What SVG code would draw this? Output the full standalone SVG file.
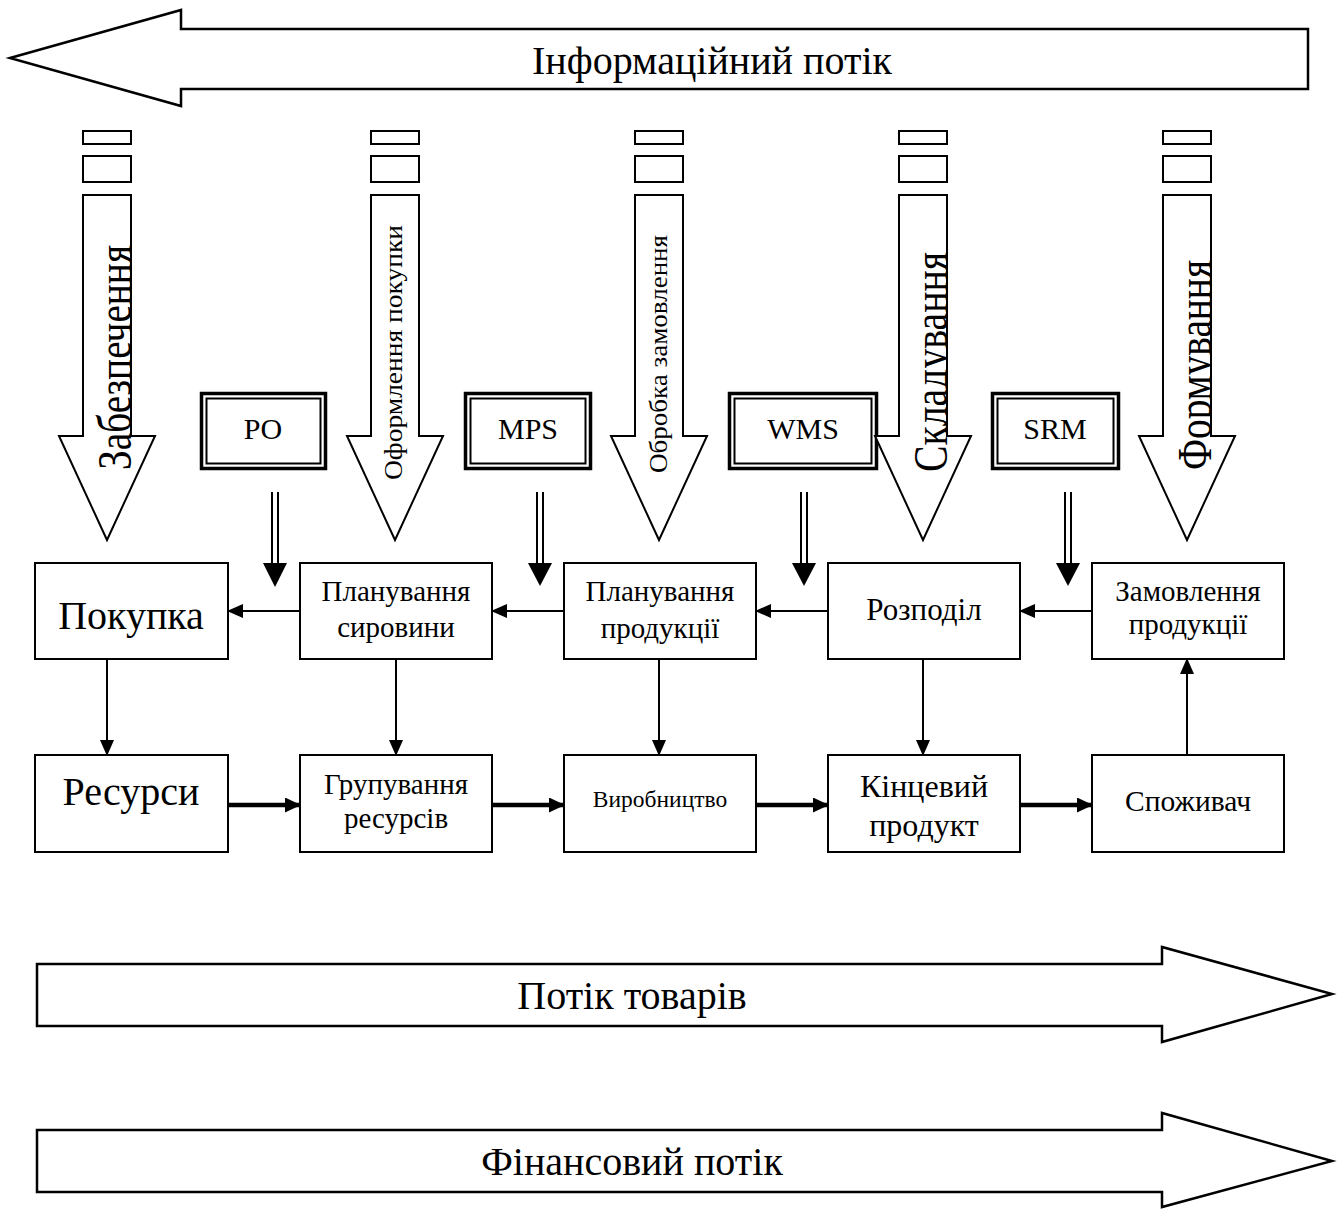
<svg xmlns="http://www.w3.org/2000/svg" width="1341" height="1209" viewBox="0 0 1341 1209">
<style>
text{font-family:"Liberation Serif","Times New Roman",serif;fill:#000}
.big{fill:#fff;stroke:#000;stroke-width:2.5}
.va{fill:#fff;stroke:#000;stroke-width:2}
.box{fill:#fff;stroke:#000;stroke-width:2}
.dout{fill:#fff;stroke:#000;stroke-width:3.5}
.din{fill:none;stroke:#000;stroke-width:2}
.thin{stroke:#000;stroke-width:2;fill:none}
.thick{stroke:#000;stroke-width:4.5;fill:none}
.dbl{stroke:#000;stroke-width:2;fill:none}
.c{text-anchor:middle}
</style>
<defs>
<marker id="ah" markerUnits="userSpaceOnUse" markerWidth="16" markerHeight="14" refX="15" refY="7" orient="auto"><path d="M0,0 L16,7 L0,14 z" fill="#000"/></marker>
<marker id="ahb" markerUnits="userSpaceOnUse" markerWidth="16" markerHeight="15" refX="15" refY="7.5" orient="auto"><path d="M0,0 L16,7.5 L0,15 z" fill="#000"/></marker>
<g id="varrow">
<rect x="-24" y="131" width="48" height="13" class="va"/>
<rect x="-24" y="156" width="48" height="26" class="va"/>
<polygon points="-24,195 24,195 24,436 48,436 0,540 -48,436 -24,436" class="va"/>
</g>
<clipPath id="cl1" clipPathUnits="userSpaceOnUse"><rect x="0" y="0" width="132" height="1209"/></clipPath>
<clipPath id="cl4" clipPathUnits="userSpaceOnUse"><rect x="0" y="0" width="948" height="1209"/></clipPath>
<clipPath id="cl5" clipPathUnits="userSpaceOnUse"><rect x="0" y="0" width="1212" height="1209"/></clipPath>
</defs>

<g id="info-flow">
<polygon points="10,58 181,10 181,29 1308,29 1308,89 181,89 181,106" class="big"/>
<text x="712" y="74" font-size="40" class="c">Інформаційний потік</text>
</g>

<g id="sys-PO">
<rect x="201.5" y="393.5" width="124" height="75" class="dout"/>
<rect x="206.5" y="398.5" width="114" height="65" class="din"/>
<text x="263" y="439" font-size="30" class="c">PO</text>
</g>
<g id="sys-MPS">
<rect x="465.5" y="393.5" width="125" height="75" class="dout"/>
<rect x="470.5" y="398.5" width="115" height="65" class="din"/>
<text x="528" y="439" font-size="30" class="c">MPS</text>
</g>
<g id="sys-WMS">
<rect x="729.5" y="393.5" width="147" height="75" class="dout"/>
<rect x="734.5" y="398.5" width="137" height="65" class="din"/>
<text x="803" y="439" font-size="30" class="c">WMS</text>
</g>
<g id="sys-SRM">
<rect x="992.5" y="393.5" width="126" height="75" class="dout"/>
<rect x="997.5" y="398.5" width="116" height="65" class="din"/>
<text x="1055" y="439" font-size="30" class="c">SRM</text>
</g>

<g id="va-1">
<use href="#varrow" transform="translate(107,0)"/>
<g clip-path="url(#cl1)"><text transform="translate(131,470) rotate(-90)" font-size="48" textLength="225" lengthAdjust="spacingAndGlyphs">Забезпечення</text></g>
</g>
<g id="va-2">
<use href="#varrow" transform="translate(395,0)"/>
<text transform="translate(402,480) rotate(-90)" font-size="25" textLength="255" lengthAdjust="spacingAndGlyphs">Оформлення покупки</text>
</g>
<g id="va-3">
<use href="#varrow" transform="translate(659,0)"/>
<text transform="translate(667,473) rotate(-90)" font-size="25" textLength="238" lengthAdjust="spacingAndGlyphs">Обробка замовлення</text>
</g>
<g id="va-4">
<use href="#varrow" transform="translate(923,0)"/>
<g clip-path="url(#cl4)"><text transform="translate(947,472) rotate(-90)" font-size="48" textLength="220" lengthAdjust="spacingAndGlyphs">Складування</text></g>
</g>
<g id="va-5">
<use href="#varrow" transform="translate(1187,0)"/>
<g clip-path="url(#cl5)"><text transform="translate(1211,470) rotate(-90)" font-size="48" textLength="210" lengthAdjust="spacingAndGlyphs">Формування</text></g>
</g>

<g id="n-pokupka"><rect x="35" y="563" width="193" height="96" class="box"/><text x="131" y="629" font-size="40" class="c">Покупка</text></g>
<g id="n-plan-syr"><rect x="300" y="563" width="192" height="96" class="box"/><text x="396" y="601" font-size="29" class="c">Планування</text><text x="396" y="637" font-size="29" class="c">сировини</text></g>
<g id="n-plan-prod"><rect x="564" y="563" width="192" height="96" class="box"/><text x="660" y="601" font-size="29" class="c">Планування</text><text x="660" y="638" font-size="29" class="c">продукції</text></g>
<g id="n-rozpodil"><rect x="828" y="563" width="192" height="96" class="box"/><text x="924" y="620" font-size="31" class="c">Розподіл</text></g>
<g id="n-zamovl"><rect x="1092" y="563" width="192" height="96" class="box"/><text x="1188" y="601" font-size="29" class="c">Замовлення</text><text x="1188" y="634" font-size="29" class="c">продукції</text></g>

<g id="n-resursy"><rect x="35" y="755" width="193" height="97" class="box"/><text x="131" y="805" font-size="40" class="c">Ресурси</text></g>
<g id="n-grup"><rect x="300" y="755" width="192" height="97" class="box"/><text x="396" y="794" font-size="29" class="c">Групування</text><text x="396" y="828" font-size="29" class="c">ресурсів</text></g>
<g id="n-vyrob"><rect x="564" y="755" width="192" height="97" class="box"/><text x="660" y="807" font-size="23.5" class="c">Виробництво</text></g>
<g id="n-kinc"><rect x="828" y="755" width="192" height="97" class="box"/><text x="924" y="797" font-size="32" class="c">Кінцевий</text><text x="924" y="836" font-size="32" class="c">продукт</text></g>
<g id="n-spozh"><rect x="1092" y="755" width="192" height="97" class="box"/><text x="1188" y="811" font-size="29.5" class="c">Споживач</text></g>

<g id="connectors">
<line x1="300" y1="611" x2="228" y2="611" class="thin" marker-end="url(#ah)"/>
<line x1="564" y1="611" x2="492" y2="611" class="thin" marker-end="url(#ah)"/>
<line x1="828" y1="611" x2="756" y2="611" class="thin" marker-end="url(#ah)"/>
<line x1="1092" y1="611" x2="1020" y2="611" class="thin" marker-end="url(#ah)"/>
<line x1="107" y1="659" x2="107" y2="755" class="thin" marker-end="url(#ah)"/>
<line x1="396" y1="659" x2="396" y2="755" class="thin" marker-end="url(#ah)"/>
<line x1="659" y1="659" x2="659" y2="755" class="thin" marker-end="url(#ah)"/>
<line x1="923" y1="659" x2="923" y2="755" class="thin" marker-end="url(#ah)"/>
<line x1="1187" y1="755" x2="1187" y2="659" class="thin" marker-end="url(#ah)"/>
<line x1="228" y1="805" x2="300" y2="805" class="thick" marker-end="url(#ahb)"/>
<line x1="492" y1="805" x2="564" y2="805" class="thick" marker-end="url(#ahb)"/>
<line x1="756" y1="805" x2="828" y2="805" class="thick" marker-end="url(#ahb)"/>
<line x1="1020" y1="805" x2="1092" y2="805" class="thick" marker-end="url(#ahb)"/>
<path d="M272,492 V565 M278,492 V565" class="dbl"/><polygon points="263,563 287,563 275,587"/>
<path d="M537,492 V565 M543,492 V565" class="dbl"/><polygon points="528,563 552,563 540,586"/>
<path d="M801,492 V565 M807,492 V565" class="dbl"/><polygon points="792,563 816,563 804,586"/>
<path d="M1065,492 V565 M1071,492 V565" class="dbl"/><polygon points="1056,563 1080,563 1068,586"/>
</g>

<g id="goods-flow">
<polygon points="37,964 1162,964 1162,947 1332,994 1162,1042 1162,1026 37,1026" class="big"/>
<text x="632" y="1009" font-size="40" class="c">Потік товарів</text>
</g>
<g id="finance-flow">
<polygon points="37,1130 1162,1130 1162,1113 1332,1161 1162,1207 1162,1192 37,1192" class="big"/>
<text x="632" y="1175" font-size="40" class="c">Фінансовий потік</text>
</g>
</svg>
